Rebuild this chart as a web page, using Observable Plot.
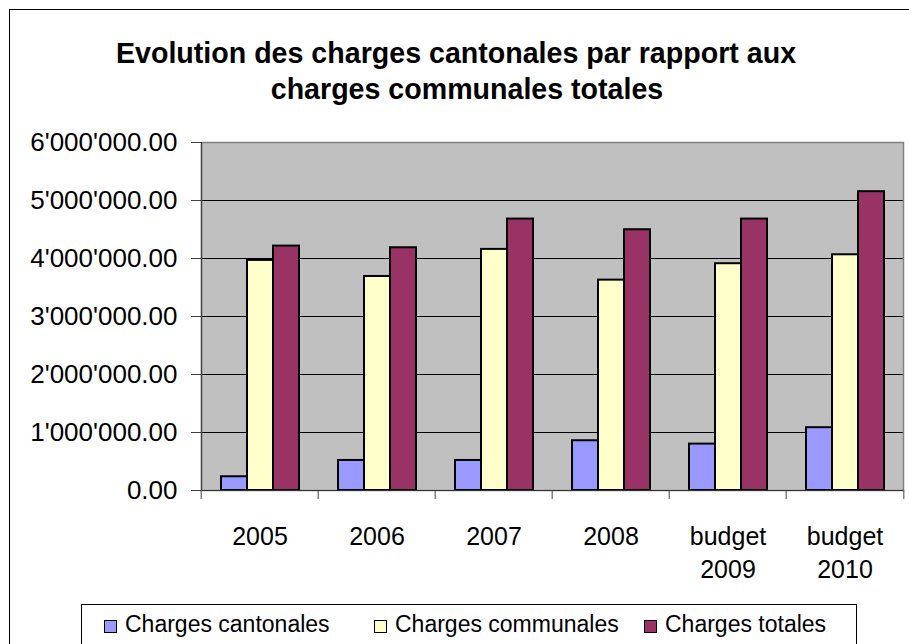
<!DOCTYPE html>
<html><head><meta charset="utf-8">
<script src="https://cdn.jsdelivr.net/npm/d3@7"></script>
<script src="https://cdn.jsdelivr.net/npm/@observablehq/plot@0.6"></script>
<style>
body{margin:0;width:909px;height:644px;overflow:hidden;background:#fff;font-family:"Liberation Sans",Arial,sans-serif;position:relative}
#border{position:absolute;left:9px;top:9px;width:1000px;height:1000px;border:1.5px solid #000;box-sizing:border-box}
.title{position:absolute;width:800px;text-align:center;font-weight:bold;font-size:28.6px;line-height:36px;color:#000;white-space:nowrap}
#t1{left:56px;top:35px}
#t2{left:67px;top:71px}
#chart{position:absolute;left:0;top:120px}
#legend{position:absolute;left:81px;top:604px;width:776px;height:80px;border:1.5px solid #000;box-sizing:border-box;padding-left:22px;padding-top:4px;display:grid;grid-template-columns:repeat(3,270px);font-size:23px;line-height:30px;background:#fff;color:#000}
.sw{display:inline-block;width:13px;height:13px;border:1.5px solid #000;box-sizing:border-box;margin-right:8px;vertical-align:-1px}
</style></head><body>
<div id="border"></div>
<div class="title" id="t1">Evolution des charges cantonales par rapport aux</div>
<div class="title" id="t2">charges communales totales</div>
<div id="chart"></div>
<div id="legend"></div>
<script>
const categories = ["2005", "2006", "2007", "2008", "budget 2009", "budget 2010"];
const seriesNames = ["Charges cantonales", "Charges communales", "Charges totales"];
const cantonales = [237000, 518000, 518000, 858000, 800000, 1083000];
const communales = [3967000, 3690000, 4157000, 3627000, 3910000, 4064000];
const totales = [4214000, 4185000, 4680000, 4496000, 4680000, 5152000];
const seriesColors = ["#9999FF", "#FFFFCC", "#993366"];
const yTicks = [0, 1000000, 2000000, 3000000, 4000000, 5000000, 6000000];

const seriesValues = [cantonales, communales, totales];
const data = categories.flatMap((c, i) => seriesNames.map((s, j) => ({cat: c, series: s, value: seriesValues[j][i]})));

const fmt = d3.formatLocale({decimal: ".", thousands: "'", grouping: [3], currency: ["", ""]}).format(",.2f");
const font = '"Liberation Sans", Arial, sans-serif';
const W = 909, H = 480, MT = 22, MB = 110, ML = 199, MR = 4;
const halfBand = (W - ML - MR) / categories.length / 2;

const chart = Plot.plot({
  width: W, height: H, marginTop: MT, marginBottom: MB, marginLeft: ML, marginRight: MR,
  style: {fontFamily: font, fontSize: "25px", color: "#000", background: "transparent", overflow: "visible"},
  fx: {domain: categories, padding: 0, label: null},
  x: {domain: seriesNames, paddingInner: 0, paddingOuter: 0.745, axis: null},
  y: {domain: [0, 6000000]},
  color: {domain: seriesNames, range: seriesColors},
  marks: [
    Plot.frame({facet: "super", fill: "#c0c0c0"}),
    Plot.ruleY(yTicks.slice(1, -1), {stroke: "#000", strokeWidth: 1}),
    Plot.frame({facet: "super", stroke: "#808080", strokeWidth: 1.5}),
    Plot.barY(data, {fx: "cat", x: "series", y: "value", fill: "series", stroke: "#000", strokeWidth: 2}),
    Plot.ruleY([0], {stroke: "#333", strokeWidth: 1.2}),
    Plot.frame({facet: "super", anchor: "left", stroke: "#404040", strokeWidth: 1.2}),
    Plot.axisFx({anchor: "bottom", tickSize: 9, text: null, dx: -halfBand, stroke: "#404040", label: null}),
    Plot.axisFx({anchor: "bottom", ticks: categories.slice(-1), tickSize: 9, text: null, dx: halfBand, stroke: "#404040", label: null}),
    Plot.axisY({ticks: yTicks, tickFormat: fmt, tickSize: 10, tickPadding: 14, fontSize: 26, stroke: "#404040", label: null}),
    Plot.axisFx({anchor: "bottom", tickSize: 0, tickPadding: 31, fontSize: 25, lineHeight: 1.32, tickFormat: d => d.replace(" ", "\n"), label: null})
  ]
});
document.getElementById("chart").appendChild(chart);

const legend = document.getElementById("legend");
seriesNames.forEach((s, j) => {
  const item = document.createElement("div");
  const sw = document.createElement("span");
  sw.className = "sw";
  sw.style.background = seriesColors[j];
  item.appendChild(sw);
  item.appendChild(document.createTextNode(s));
  legend.appendChild(item);
});
</script>
</body></html>
